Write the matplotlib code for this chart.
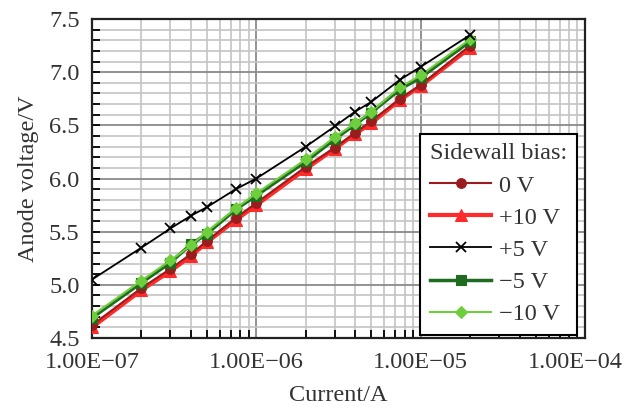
import matplotlib
matplotlib.use("Agg")
import matplotlib.pyplot as plt
import matplotlib.transforms as mtransforms
import numpy as np
from matplotlib.ticker import FixedLocator, FixedFormatter, MultipleLocator, LogLocator, NullFormatter

# Data
current = [1e-7, 2e-7, 3e-7, 4e-7, 5e-7, 7.5e-7, 1e-6, 2e-6, 3e-6, 4e-6, 5e-6, 7.5e-6, 1e-5, 2e-5]

bias_0 = [4.62, 4.97, 5.15, 5.29, 5.41, 5.63, 5.77, 6.11, 6.29, 6.43, 6.54, 6.75, 6.88, 7.25]
bias_p10 = [4.60, 4.95, 5.13, 5.27, 5.40, 5.61, 5.75, 6.09, 6.28, 6.42, 6.52, 6.74, 6.87, 7.23]
bias_p5 = [5.05, 5.35, 5.53, 5.65, 5.73, 5.90, 6.00, 6.30, 6.49, 6.63, 6.72, 6.93, 7.05, 7.35]
bias_m5 = [4.69, 5.02, 5.21, 5.38, 5.48, 5.71, 5.84, 6.16, 6.37, 6.51, 6.62, 6.84, 6.95, 7.29]
bias_m10 = [4.71, 5.04, 5.23, 5.37, 5.50, 5.72, 5.86, 6.18, 6.39, 6.52, 6.63, 6.86, 6.97, 7.31]

labels = ['0 V', '+10 V', '+5 V', '\u22125 V', '\u221210 V']

x_ticks = [1e-7, 1e-6, 1e-5, 1e-4]
x_tick_labels = ['1.00E\u221207', '1.00E\u221206', '1.00E\u221205', '1.00E\u221204']

plt.rcParams['font.family'] = ['Liberation Serif', 'DejaVu Serif']
fs = 17.5
text_col = '#333333'

fig = plt.figure(figsize=(6.28, 4.18), dpi=100)
ax = fig.add_axes([0.1465, 0.1914, 0.785, 0.7631])

# series styles: (values, color, marker, markersize, linewidth, zorder)
series = [
    (bias_0, '#9a1c1c', 'o', 7, 1.5, 4),
    (bias_p10, '#ff2a2a', '^', 8, 3.0, 3),
    (bias_p5, 'black', 'x', 7, 1.3, 7),
    (bias_m5, '#1f6b1f', 's', 6.5, 2.5, 5),
    (bias_m10, '#6fce3e', 'D', 6, 1.5, 6),
]

for (vals, col, mk, ms, lw, z), lab in zip(series, labels):
    ax.plot(current, vals, color=col, marker=mk, markersize=ms, linewidth=lw,
            label=lab, zorder=z, markeredgewidth=1.3 if mk == 'x' else 0.8)

ax.set_xscale('log')
ax.set_xlim(1e-7, 1e-4)
ax.set_ylim(4.5, 7.5)

ax.xaxis.set_major_locator(FixedLocator(x_ticks))
ax.xaxis.set_major_formatter(FixedFormatter(x_tick_labels))
ax.xaxis.set_minor_locator(LogLocator(base=10, subs=np.arange(2, 10)))
ax.xaxis.set_minor_formatter(NullFormatter())
ax.yaxis.set_major_locator(MultipleLocator(0.5))
ax.yaxis.set_minor_locator(MultipleLocator(0.1))
ax.yaxis.set_major_formatter(plt.FuncFormatter(lambda v, p: f'{v:.1f}'))

ax.grid(which='major', color='#8a8a8a', linewidth=1.3, zorder=0)
ax.grid(which='minor', color='#c4c4c4', linewidth=1.2, zorder=0)
ax.set_axisbelow(True)

ax.tick_params(which='both', direction='in', top=False, right=False, colors='black',
               labelsize=fs, labelcolor=text_col, width=1.3)
ax.tick_params(axis='y', which='both', length=6, pad=9)
ax.tick_params(axis='x', which='major', length=0, pad=10)
ax.tick_params(axis='x', which='minor', length=6)

for s in ax.spines.values():
    s.set_linewidth(1.6)
    s.set_color('#222222')

ax.set_xlabel('Current/A', fontsize=fs, labelpad=9, color=text_col)
ax.set_ylabel('Anode voltage/V', fontsize=fs, labelpad=7, color=text_col)

# keep the last x tick label inside the figure
last = ax.get_xticklabels()[-1]
last.set_transform(last.get_transform() +
                   mtransforms.ScaledTranslation(-7 / 72, 0, fig.dpi_scale_trans))

leg = ax.legend(title='Sidewall bias:', loc='lower right', bbox_to_anchor=(0.984, 0.009),
                borderaxespad=0, fontsize=fs, title_fontsize=fs, fancybox=False,
                framealpha=1, edgecolor='black', handlelength=2.5, handletextpad=0.35,
                labelspacing=0.42, borderpad=0.4, alignment='left', labelcolor=text_col)
leg.get_title().set_color(text_col)
leg.get_frame().set_linewidth(1.5)
leg.set_zorder(10)

fig.savefig('out.png', dpi=100)
